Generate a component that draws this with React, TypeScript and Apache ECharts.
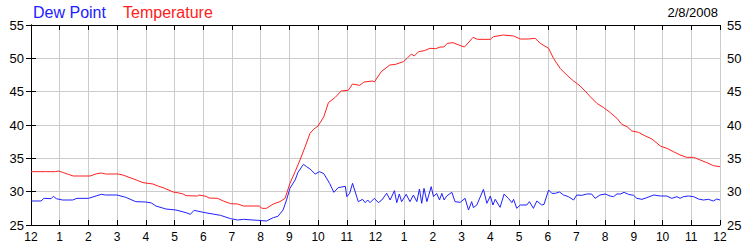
import React, { useEffect, useRef } from "react";
import * as echarts from "echarts";

const chartDate = "2/8/2008";
const seriesNames = ["Dew Point", "Temperature"];
const yTicks = { min: 25, max: 55, interval: 5 };

const tempHours = [0, 0.5, 0.85, 0.95, 1.1, 1.3, 1.47, 2.06, 2.29, 2.46, 2.6, 3.04, 3.2, 3.45, 3.7, 3.9, 4.25, 4.45, 4.6, 4.95, 5.1, 5.3, 5.4, 5.8, 5.85, 6.1, 6.2, 6.5, 6.7, 6.95, 7.2, 7.4, 7.95, 8.05, 8.2, 8.44, 8.67, 8.85, 9.02, 9.2, 9.37, 9.55, 9.72, 9.84, 10.0, 10.2, 10.36, 10.6, 10.8, 11.05, 11.2, 11.45, 11.6, 11.9, 11.96, 12.2, 12.5, 12.7, 12.97, 13.1, 13.25, 13.35, 13.5, 13.7, 13.9, 14.1, 14.25, 14.38, 14.5, 14.7, 14.9, 15.1, 15.4, 15.55, 16.0, 16.11, 16.46, 16.81, 17.04, 17.33, 17.56, 17.74, 18.03, 18.2, 18.43, 18.66, 18.9, 19.13, 19.3, 19.48, 19.71, 19.95, 20.18, 20.41, 20.58, 20.76, 20.93, 21.16, 21.4, 21.63, 21.92, 22.15, 22.38, 22.61, 22.84, 23.08, 23.31, 23.54, 23.77, 24];
const tempValues = [33.0, 33.0, 33.0, 33.1, 32.9, 32.6, 32.35, 32.35, 32.7, 32.8, 32.65, 32.65, 32.5, 32.1, 31.7, 31.35, 31.15, 30.8, 30.6, 29.95, 29.85, 29.65, 29.4, 29.35, 29.5, 29.3, 29.05, 29.0, 28.6, 28.2, 28.15, 27.85, 27.85, 27.5, 27.5, 28.15, 28.5, 29.0, 31.25, 33.0, 34.75, 36.75, 38.75, 39.35, 39.85, 41.25, 43.35, 44.15, 45.1, 45.2, 46.15, 45.95, 46.45, 46.6, 46.45, 48.0, 49.0, 49.1, 49.5, 50.0, 50.65, 50.35, 51.0, 51.15, 51.5, 51.45, 51.7, 51.7, 52.25, 52.35, 52.0, 51.7, 53.15, 52.85, 52.85, 53.25, 53.5, 53.35, 52.9, 52.9, 53.0, 52.25, 51.5, 50.0, 48.5, 47.5, 46.6, 45.85, 45.1, 44.25, 43.25, 42.6, 41.85, 41.0, 40.1, 39.75, 39.1, 38.9, 38.35, 37.9, 36.85, 36.5, 36.0, 35.5, 35.15, 35.15, 34.75, 34.35, 33.9, 33.75];

const dewHours = [0, 0.35, 0.45, 0.7, 0.78, 0.88, 1.1, 1.45, 1.6, 2.0, 2.3, 2.45, 2.6, 3.0, 3.3, 3.65, 4.0, 4.2, 4.35, 4.7, 5.05, 5.4, 5.55, 5.68, 6.0, 6.2, 6.6, 6.95, 7.2, 7.4, 7.9, 8.2, 8.44, 8.6, 8.78, 8.9, 9.02, 9.2, 9.3, 9.49, 9.6, 9.72, 9.9, 10.05, 10.2, 10.4, 10.55, 10.7, 10.95, 11.0, 11.1, 11.2, 11.4, 11.55, 11.64, 11.73, 11.81, 11.96, 12.1, 12.22, 12.39, 12.51, 12.66, 12.74, 12.83, 12.91, 13.07, 13.2, 13.32, 13.44, 13.53, 13.61, 13.69, 13.79, 13.94, 14.02, 14.13, 14.23, 14.31, 14.39, 14.48, 14.66, 14.77, 14.95, 15.12, 15.24, 15.35, 15.41, 15.53, 15.76, 15.88, 16.0, 16.09, 16.17, 16.34, 16.48, 16.63, 16.75, 16.81, 16.92, 17.04, 17.27, 17.36, 17.5, 17.62, 17.79, 17.87, 18.03, 18.14, 18.26, 18.41, 18.55, 18.72, 18.9, 19.01, 19.19, 19.36, 19.53, 19.65, 19.82, 20.0, 20.17, 20.29, 20.41, 20.53, 20.66, 20.81, 20.99, 21.1, 21.28, 21.45, 21.69, 21.92, 22.15, 22.32, 22.5, 22.61, 22.73, 22.9, 23.08, 23.25, 23.42, 23.6, 23.77, 23.89, 24];
const dewValues = [28.6, 28.6, 29.0, 28.95, 29.3, 28.95, 28.75, 28.75, 29.0, 29.0, 29.4, 29.6, 29.5, 29.5, 29.15, 28.5, 28.45, 28.3, 27.85, 27.4, 27.25, 26.85, 26.6, 27.2, 26.9, 26.75, 26.45, 25.95, 25.75, 25.85, 25.7, 25.6, 26.1, 26.3, 27.25, 28.75, 30.5, 31.75, 32.9, 34.1, 33.75, 33.4, 32.65, 33.0, 32.7, 31.25, 29.9, 30.6, 30.8, 29.25, 29.75, 31.25, 28.5, 28.85, 28.35, 28.75, 28.35, 29.0, 28.35, 28.75, 29.75, 28.75, 30.15, 28.35, 29.65, 28.5, 29.6, 28.5, 29.5, 28.5, 30.4, 28.25, 30.5, 28.5, 30.75, 29.25, 29.75, 28.75, 29.75, 28.75, 29.35, 29.9, 28.5, 28.4, 29.0, 27.25, 28.5, 27.6, 28.0, 30.35, 28.25, 29.35, 28.0, 28.85, 27.65, 29.65, 29.0, 28.35, 28.85, 27.5, 28.0, 28.0, 28.5, 27.5, 28.6, 28.0, 28.1, 30.25, 29.75, 29.75, 29.95, 29.5, 29.25, 28.75, 29.5, 29.45, 29.65, 29.65, 29.0, 29.5, 29.65, 29.35, 29.25, 29.65, 29.65, 29.9, 29.6, 29.45, 29.0, 28.85, 29.1, 29.5, 29.35, 29.35, 29.0, 29.25, 29.0, 29.25, 29.35, 29.25, 28.9, 28.75, 28.85, 28.6, 28.9, 28.75];

const FONT = "'Liberation Sans', Arial, sans-serif";
const BLUE = "#2020ff";
const RED = "#ff2020";

const hourLabel = (v: number) => {
  const h = Math.round(v) % 12;
  return String(h === 0 ? 12 : h);
};

export default function App() {
  const ref = useRef<HTMLDivElement>(null);
  useEffect(() => {
    if (!ref.current) return;
    const chart = echarts.init(ref.current, undefined, { renderer: "svg" });
    const xCommon = {
      type: "value" as const,
      min: 0,
      max: 24,
      interval: 1,
      axisLine: { show: true, lineStyle: { color: "#000", width: 1 } },
      axisTick: { show: true, inside: true, length: 5, lineStyle: { color: "#000" } },
    };
    const yCommon = {
      type: "value" as const,
      min: yTicks.min,
      max: yTicks.max,
      interval: yTicks.interval,
      axisLine: { show: true, lineStyle: { color: "#000", width: 1 } },
      axisTick: { show: true, inside: true, length: 5, lineStyle: { color: "#000" } },
    };
    chart.setOption({
      animation: false,
      backgroundColor: "#fff",
      grid: { left: 31, right: 30, top: 25, bottom: 25, containLabel: false },
      xAxis: [
        {
          ...xCommon,
          position: "bottom",
          axisLabel: { color: "#000", fontFamily: FONT, fontSize: 12, margin: 6, formatter: hourLabel },
          splitLine: { show: true, lineStyle: { color: "#cccccc", width: 1 } },
        },
        {
          ...xCommon,
          position: "top",
          axisLabel: { show: false },
          splitLine: { show: false },
        },
      ],
      yAxis: [
        {
          ...yCommon,
          position: "left",
          axisLabel: { color: "#000", fontFamily: FONT, fontSize: 13, margin: 7 },
          splitLine: { show: true, lineStyle: { color: "#cccccc", width: 1 } },
        },
        {
          ...yCommon,
          position: "right",
          axisLabel: { color: "#000", fontFamily: FONT, fontSize: 13, margin: 7 },
          splitLine: { show: false },
        },
      ],
      graphic: [
        { type: "text", left: 33, top: 4, style: { text: seriesNames[0], fill: BLUE, font: `16px ${FONT}` } },
        { type: "text", left: 123, top: 4, style: { text: seriesNames[1], fill: RED, font: `16px ${FONT}` } },
        { type: "text", right: 32, top: 6, style: { text: chartDate, fill: "#000", font: `13px ${FONT}` } },
      ],
      series: [
        {
          name: seriesNames[0],
          type: "line",
          showSymbol: false,
          symbol: "none",
          lineStyle: { color: BLUE, width: 1 },
          data: dewHours.map((h, i) => [h, dewValues[i]]),
        },
        {
          name: seriesNames[1],
          type: "line",
          showSymbol: false,
          symbol: "none",
          lineStyle: { color: RED, width: 1 },
          data: tempHours.map((h, i) => [h, tempValues[i]]),
        },
      ],
    });
    return () => chart.dispose();
  }, []);
  return <div ref={ref} style={{ position: "absolute", left: 0, top: 0, width: 750, height: 250 }} />;
}
